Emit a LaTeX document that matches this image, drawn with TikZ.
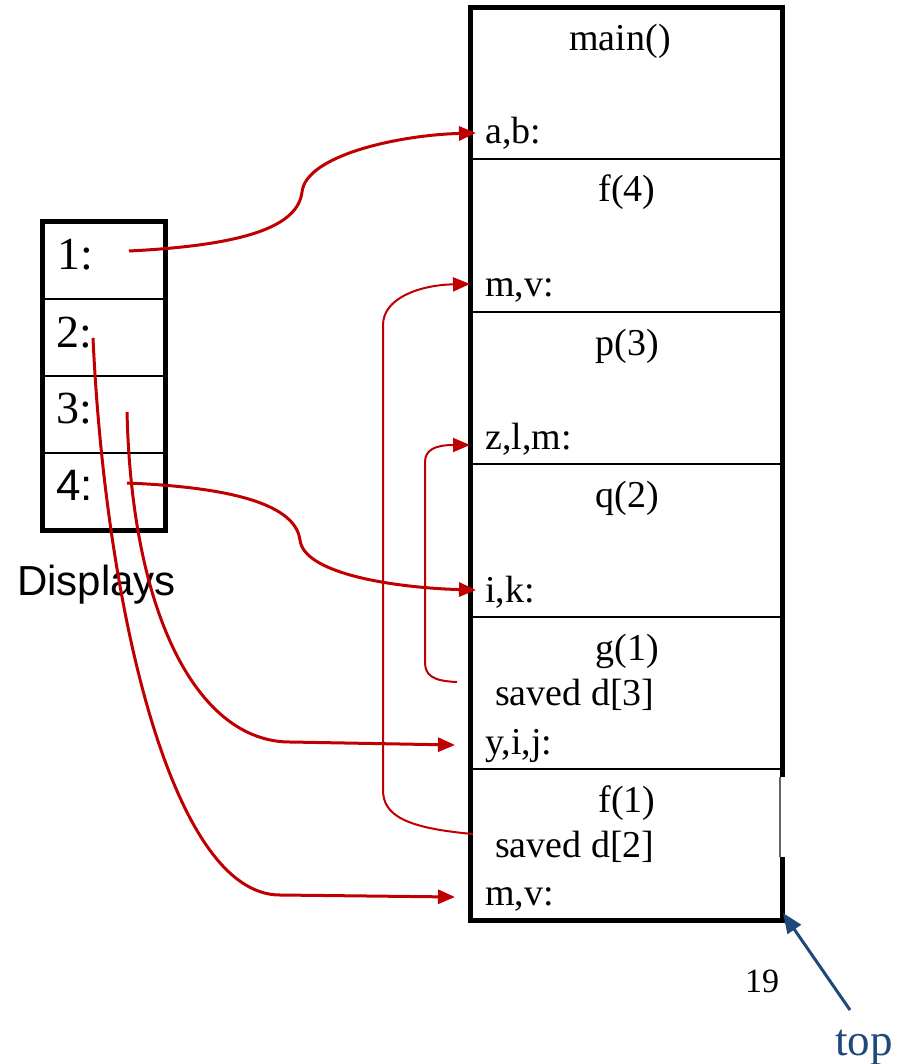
\documentclass[tikz,border=0pt]{standalone}
\usepackage{fontspec}
\setmainfont{Liberation Serif}
\newfontfamily\arialf{Liberation Sans}
\usetikzlibrary{arrows.meta}
\definecolor{pptred}{RGB}{192,0,0}
\definecolor{pptblue}{RGB}{31,73,125}
\begin{document}
\begin{tikzpicture}[x=1pt,y=-1pt,
  stk/.style={font=\fontsize{38}{42}\selectfont, inner sep=0pt},
  var/.style={stk, anchor=base west},
  ttl/.style={stk, anchor=base},
  dsp/.style={font=\fontsize{46}{50}\selectfont, inner sep=0pt, anchor=base west},
  frame/.style={line width=5pt},
  divider/.style={line width=2.5pt},
  link/.style={draw=pptred, line width=3pt, -{Triangle[length=17pt,width=14pt]}},
  thinlink/.style={draw=pptred, line width=2pt, -{Triangle[length=17pt,width=14pt]}},
  toparrow/.style={draw=pptblue, line width=3pt, -{Triangle[length=20pt,width=16pt]}}]
\useasboundingbox (0,0) rectangle (908,1064);

% ---------- stack ----------
\draw[frame] (782,777) -- (782,8) -- (470,8) -- (470,920) -- (782,920) -- (782,857);
\draw[line width=1.5pt, black!60] (780,777) -- (780,857);
\foreach \yy in {159,312,464,617,769} \draw[divider] (470,\yy) -- (782,\yy);

\node[ttl] (mainT) at (620,51) {main()};
\node[var] (ab)    at (485,144) {a,b:};
\node[ttl] (f4T)   at (627,202) {f(4)};
\node[var] (mv1)   at (485,297) {m,v:};
\node[ttl] (p3T)   at (627,355) {p(3)};
\node[var] (zlm)   at (485,449) {z,l,m:};
\node[ttl] (q2T)   at (627,507) {q(2)};
\node[var] (ik)    at (485,602) {i,k:};
\node[ttl] (g1T)   at (627,660) {g(1)};
\node[var] (sv3)   at (495,705) {saved d[3]};
\node[var] (yij)   at (485,754) {y,i,j:};
\node[ttl] (f1T)   at (627,812) {f(1)};
\node[var] (sv2)   at (495,857) {saved d[2]};
\node[var] (mv2)   at (485,905) {m,v:};

% ---------- displays ----------
\draw[frame] (42,222) rectangle (165,530);
\foreach \yy in {299,376,453} \draw[divider] (42,\yy) -- (165,\yy);
\node[dsp] (d1) at (57,270) {1:};
\node[dsp] (d2) at (56,347) {2:};
\node[dsp] (d3) at (56,423) {3:};
\node[dsp, font=\arialf\fontsize{44}{48}\selectfont] (d4) at (56,500) {4:};
\node[font=\arialf\fontsize{42}{46}\selectfont, inner sep=0pt, anchor=base west] (disp) at (17,595) {Displays};

\node[font=\fontsize{34}{38}\selectfont, inner sep=0pt, anchor=base west] (nineteen) at (745,992) {19};
\node[font=\fontsize{45}{49}\selectfont, text=pptblue, inner sep=0pt, anchor=base west] (topT) at (835,1055) {top};

% ---------- coordinates ----------
\coordinate (s1) at (129,251);
\coordinate (s2) at (93,338);
\coordinate (s3) at (127,412);
\coordinate (s4) at (127,483);
\coordinate (s5) at (457,682);
\coordinate (s6) at (473,834);
\coordinate (abin) at (476,133);
\coordinate (mv1in) at (470,284);
\coordinate (zlmin) at (470,445);
\coordinate (ikin) at (476,590);
\coordinate (yijin) at (455,745);
\coordinate (mv2in) at (455,897);
\coordinate (topfrom) at (850,1010);
\coordinate (topcorner) at (783,913);

% ---------- links ----------
\draw[link] (s1) .. controls (250,245) and (298,225) .. (302,192)
                 .. controls (306,155) and (400,135) .. (abin);
\draw[link] (s4) .. controls (250,488) and (296,510) .. (300,540)
                 .. controls (304,575) and (400,588) .. (ikin);
\draw[link] (s2) .. controls (105,600) and (170,895) .. (280,895) -- (mv2in);
\draw[link] (s3) .. controls (132,620) and (200,742) .. (290,742) -- (yijin);
\draw[thinlink] (s5) .. controls (432,681) and (425,675) .. (425,662) -- (425,462)
                 .. controls (425,450) and (435,445) .. (zlmin);
\draw[thinlink] (s6) .. controls (405,828) and (383,815) .. (383,790) -- (383,325)
                 .. controls (383,298) and (420,285) .. (mv1in);
\draw[toparrow] (topfrom) -- (topcorner);
\end{tikzpicture}
\end{document}
